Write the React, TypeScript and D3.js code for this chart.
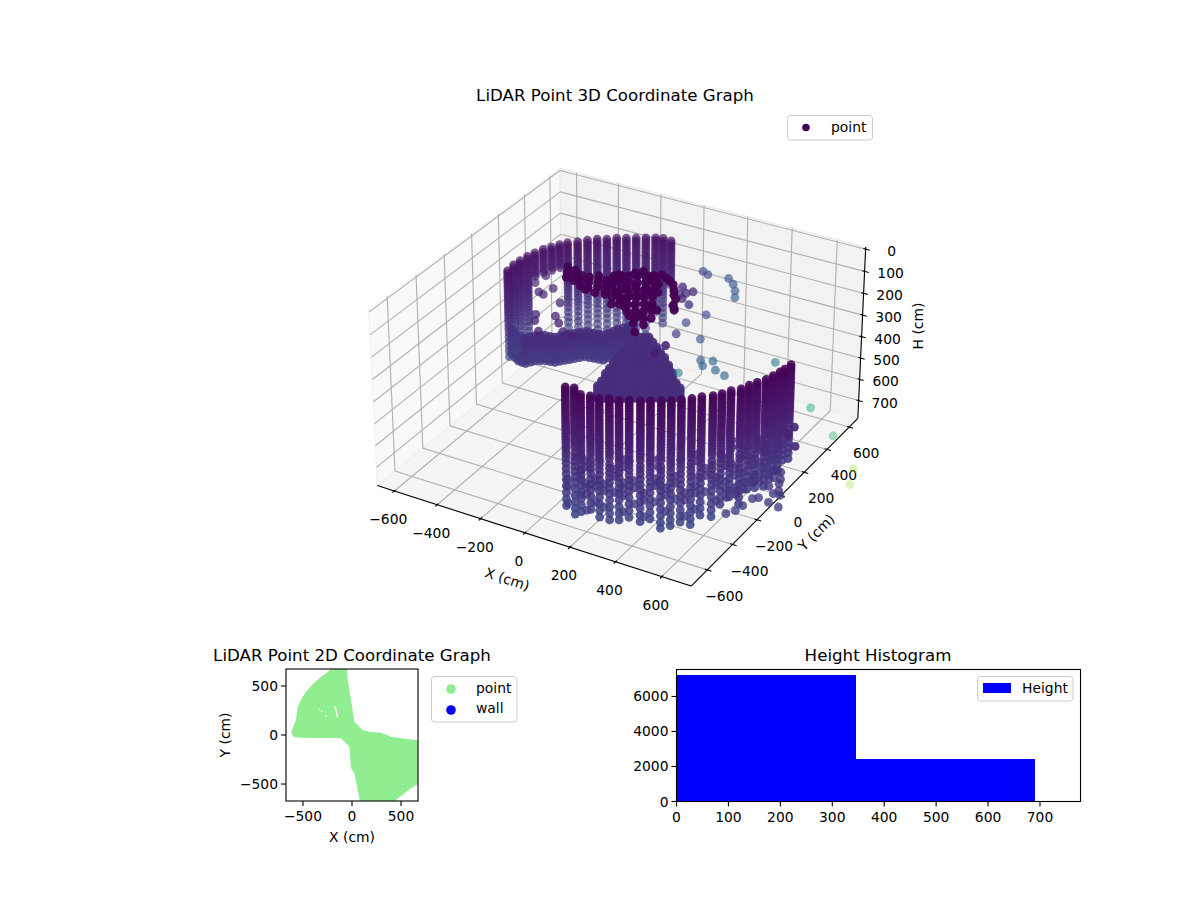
// App.tsx - LiDAR point graphs (3D scatter, 2D footprint, height histogram)
import React from 'react';
import * as d3 from 'd3';

const FONT = '"DejaVu Sans", sans-serif';
const TEXT = '#000';

// 3D axes
const xLim = [-680, 725];
const yLim = [-725, 680];
const hLim = [-10, 785];
const xTicks = [-600, -400, -200, 0, 200, 400, 600];
const yTicks = [-600, -400, -200, 0, 200, 400, 600];
const hTicks = [0, 100, 200, 300, 400, 500, 600, 700];

// sampled heights of one vertical laser sweep (cm)
const scanLevels = [
  154, 166, 178, 190, 202, 214, 226, 238, 250, 262, 274, 286, 298,
  310, 322, 334, 346, 358, 372, 386, 400, 416, 432, 450, 470, 492, 516, 540, 566, 594, 624, 654, 684, 710,
];
const moundLevels = [400, 412, 424, 436, 448, 460, 472, 484, 496, 508, 520, 532, 544, 556, 568, 580, 592, 604, 616, 628, 640, 652, 664, 676, 688, 700];

// near wall, one entry per sweep
const frontX = [119, 151, 196, 233, 272, 304, 342, 374, 413, 445, 479, 511, 540, 569, 594, 627, 649, 668, 694, 707, 723, 742, 752, 761, 767, 772];
const frontY = [-613, -602, -631, -623, -624, -604, -598, -578, -562, -543, -522, -503, -478, -451, -420, -393, -364, -328, -297, -257, -224, -188, -150, -112, -85, -43];
const frontBottom = [700, 712, 690, 680, 690, 690, 700, 700, 700, 700, 712, 712, 712, 712, 700, 690, 670, 650, 660, 650, 640, 640, 610, 600, 590, 590];
const frontOffset = [0, 9, -7, 5, -3, 11, 2, -9, 7, -5, 12, 0, -11, 6, -2, 10, -8, 3, 13, -6, 1, 8, -10, 4, -4, 9];

// far wall
const backX = [-566, -572, -568, -562, -552, -538, -520, -503, -483, -452, -425, -395, -361, -330, -296, -262, -228, -194, -164, -126];
const backY = [81, 136, 180, 227, 267, 310, 345, 380, 410, 438, 471, 498, 518, 545, 565, 586, 607, 627, 638, 635];
const backBottom = [590, 590, 580, 570, 285, 285, 280, 280, 640, 650, 650, 650, 650, 650, 650, 650, 640, 532, 592, 376];

// mound in the middle of the room
const moundX = [-200, -186, -172, -158, -144, -130, -116, -102, -89, -75, -62, -48, -35, -21, -8, 5, 19, 33, 47, 60, 74, 88];
const moundY = [164, 172, 180, 188, 196, 204, 213, 221, 229, 237, 246, 254, 262, 270, 279, 287, 295, 303, 312, 320, 328, 336];
const moundTop = [640, 610, 575, 550, 526, 502, 480, 464, 448, 432, 416, 408, 402, 410, 425, 450, 480, 508, 539, 578, 617, 650];

// low band joining the far wall and the mound
const bandX = [-637, -613, -589, -570, -552, -540, -528, -511, -494, -473, -453, -440, -426, -412, -399, -385, -372, -351, -331, -310, -290, -280, -270, -260, -249, -239, -229];
const bandY = [216, 200, 185, 183, 182, 202, 222, 232, 243, 246, 250, 267, 284, 300, 317, 334, 351, 355, 359, 362, 366, 390, 413, 436, 458, 482, 505];
const bandLevels = [525, 540, 555, 570, 585, 600, 615, 630, 645];

// dark structure close to the sensor (h = 100)
const blobX = [
  -291, -251, -207, -173, -145, -102, -108, -101, -67, -54, -33, 15, 55, 41, 7, -20, -41, -68, -109, -156, 24, 58, 78, 102, 109, 75, 47, 132, 170, 132, 98, 183, 183, 142, 6,
  -115, -88, -61, -34, -6, 21,
  -88, -61, -34, -7, 21, 48,
  -61, -34, -7, 20, 48, 75,
  -34, -7, 20, 47, 75, 102,
  -7, 20, 47, 74, 102, 129,
  74, 101, 129, 156,
  128, 156, 183,
  -271, -231, -187, -153, -125, -82, -88, -81,
  -311, -271, -227, -193, -165, -122,
  44, 71, 96, 123, 71, 40, 150, 168, 190, 205, 226,
];
const blobY = [
  86, 77, 53, 56, 82, 65, 129, 168, 171, 214, 242, 221, 194, 135, 115, 81, 35, 1, -6, -1, 40, 60, 107, 121, 6, -14, -48, 4, -8, -81, -101, -136, -203, -143, -4,
  151, 167, 183, 200, 216, 233,
  100, 116, 132, 149, 165, 182,
  48, 64, 80, 97, 113, 130,
  -3, 13, 29, 46, 62, 79,
  -55, -39, -23, -6, 10, 27,
  -74, -57, -41, -24,
  -109, -93, -76,
  47, 38, 14, 17, 43, 26, 90, 129,
  125, 116, 92, 95, 121, 104,
  255, 240, 225, 205, 180, 195, 165, 130, 105, 60, 30,
];

// loose returns around the holes of the far wall (h = 300)
const leftX = [-549, -542, -495, -468, -460, -407, -384, -326, -372, -332, -291, -241, -190];
const leftY = [261, 333, 201, 191, 255, 33, -12, -79, 164, 61, 18, -35, -48];

// loose returns in the lower part of the near wall, repeated on a few sweep heights
const lowerX = [186, 160, 262, 307, 291, 386, 394, 469, 454, 520, 514, 600, 610, 585, 652, 617, 678, 643, 700, 666, 707, 679, 675, 653, 173, 262, 285, 397, 509, 573, 875, 843, 815, 828, 780, 763, 754, 747, 726, 748, 736, 691, 708];
const lowerY = [-620, -541, -637, -650, -541, -642, -574, -632, -522, -561, -468, -553, -491, -363, -401, -263, -306, -167, -213, -74, -89, 12, 75, 157, -692, -701, -464, -397, -289, -131, -321, -245, -247, -311, -300, -318, -379, -424, -461, -87, -136, -99, -25];
const lowerLevels = [505, 537, 610];

// isolated far returns (h = 400), colour value and strength
const farX = [-92, -61, 30, 70, 104, 131, -100, -114, -79, -52, -60, -42, -3, -55, -32, 99, 60, 70, 175, 80, 75, 258, 286, 303, 346, 397, 521, 230, 801, 969, 813, 820, 880, 1141, 1179];
const farY = [851, 836, 849, 814, 767, 715, 690, 640, 627, 600, 647, 674, 568, 525, 495, 528, 430, 330, 340, 225, 150, 191, 156, 210, 151, 131, 324, 60, 79, -64, -80, -145, -205, -241, -345];
const farC = [0.22, 0.22, 0.25, 0.27, 0.28, 0.28, 0.12, 0.1, 0.12, 0.12, 0.13, 0.14, 0.13, 0.12, 0.12, 0.23, 0.2, 0.18, 0.27, 0.07, 0.08, 0.3, 0.31, 0.33, 0.33, 0.35, 0.42, 0.42, 0.62, 0.68, 0.1, 0.1, 0.11, 0.85, 0.87];
const farA = [0.65, 0.65, 0.65, 0.65, 0.65, 0.65, 0.75, 0.75, 0.75, 0.75, 0.75, 0.75, 0.75, 0.75, 0.75, 0.65, 0.65, 0.7, 0.65, 0.85, 0.8, 0.65, 0.65, 0.65, 0.65, 0.65, 0.6, 0.6, 0.5, 0.45, 0.9, 0.9, 0.9, 0.35, 0.35];

// 2D footprint outline
const footX = [-250, -180, -51, -44, -10, 24, 109, 177, 296, 398, 700, 700, 602, 398, 85, 24, -10, -27, -112, -537, -599, -619, -571, -554, -520, -469, -400, -333];
const footY = [640, 700, 700, 561, 357, 136, 51, 34, 24, -17, -60, -483, -544, -700, -700, -391, -340, -119, -34, -27, -17, 34, 153, 289, 360, 442, 520, 578];
const holeX = [-185, -163, -140, -155, -170];
const holeY = [296, 289, 175, 180, 250];
const speckX = [-333, -265, -310];
const speckY = [262, 194, 240];
const footTicks = [-500, 0, 500];

// histogram
const histEdges = [0, 345, 690];
const histCounts = [7200, 2400];
const histXTicks = [0, 100, 200, 300, 400, 500, 600, 700];
const histYTicks = [0, 2000, 4000, 6000];

const fmt = (v: number) => String(v).replace('-', '\u2212');

// view of the 3D axes: elev 30, azim -60, perspective at distance 10
const boxA = 0.595;
const boxC = 0.335;
const toBoxX = d3.scaleLinear().domain(xLim).range([-boxA, boxA]);
const toBoxY = d3.scaleLinear().domain(yLim).range([-boxA, boxA]);
const toBoxH = d3.scaleLinear().domain(hLim).range([boxC, -boxC]);
const screenX = d3.scaleLinear().domain([-0.095, 0.09]).range([622 - 0.095 * 3005, 622 + 0.09 * 3005]);
const screenY = d3.scaleLinear().domain([-0.095, 0.09]).range([366 + 0.095 * 2990, 366 - 0.09 * 2990]);

function project(x: number, y: number, h: number) {
  const nx = toBoxX(x);
  const ny = toBoxY(y);
  const nz = toBoxH(h);
  const u = 0.866 * nx + 0.5 * ny;
  const v = -0.25 * nx + 0.433 * ny + 0.866 * nz;
  const w = 0.433 * nx - 0.75 * ny + 0.5 * nz;
  const s = 10 - w;
  return { px: screenX(u / s), py: screenY(v / s), depth: w };
}

const hColor = d3.scaleLinear().domain([154, 720]).range([0.015, 0.22]);

type P = { x: number; y: number; h: number; c: number; a?: number };

function buildPoints(): P[] {
  const pts: P[] = [];
  frontX.forEach((x, i) => {
    scanLevels.filter(h => h <= frontBottom[i]).forEach(h => {
      const lvl = h > 420 ? h + frontOffset[i] : h;
      pts.push({ x, y: frontY[i], h: lvl, c: hColor(h), a: 0.88 });
    });
  });
  backX.forEach((x, i) => {
    scanLevels.filter(h => h >= 166 && h <= backBottom[i]).forEach(h => pts.push({ x, y: backY[i], h, c: hColor(h) + 0.03 }));
  });
  moundX.forEach((x, i) => {
    moundLevels.filter(h => h >= moundTop[i]).forEach(h => pts.push({ x, y: moundY[i], h, c: 0.13, a: 0.9 }));
  });
  bandX.forEach((x, i) => {
    bandLevels.forEach(h => pts.push({ x, y: bandY[i], h, c: hColor(h) - 0.02, a: 0.85 }));
  });
  blobX.forEach((x, i) => pts.push({ x, y: blobY[i], h: 100, c: 0.003, a: 0.95 }));
  leftX.forEach((x, i) => pts.push({ x, y: leftY[i], h: 300, c: 0.1 }));
  lowerX.forEach((x, i) => {
    lowerLevels.forEach(h => pts.push({ x, y: lowerY[i], h, c: hColor(h), a: 0.8 }));
  });
  farX.forEach((x, i) => pts.push({ x, y: farY[i], h: 400, c: farC[i], a: farA[i] }));
  return pts;
}

const poly = (corners: number[][]) =>
  corners.map(c => { const p = project(c[0], c[1], c[2]); return `${p.px},${p.py}`; }).join(' ');

const Seg = ({ a, b, stroke, sw }: { a: number[]; b: number[]; stroke: string; sw: number }) => {
  const p = project(a[0], a[1], a[2]);
  const q = project(b[0], b[1], b[2]);
  return <line x1={p.px} y1={p.py} x2={q.px} y2={q.py} stroke={stroke} strokeWidth={sw} />;
};

const Scatter3D = () => {
  const [x0, x1] = xLim;
  const [y0, y1] = yLim;
  const [hT, hB] = hLim;
  const projected = buildPoints().map(p => ({ ...p, ...project(p.x, p.y, p.h) }));
  projected.sort((a, b) => a.depth - b.depth);
  const fade = d3.scaleLinear()
    .domain(d3.extent(projected, d => d.depth) as [number, number])
    .range([0.62, 1]);
  const grid = '#b0b0b0';
  return (
    <g>
      <polygon points={poly([[x0, y0, hB], [x0, y1, hB], [x0, y1, hT], [x0, y0, hT]])} fill="#f9f9f9" stroke="#f2f2f2" />
      <polygon points={poly([[x0, y1, hB], [x1, y1, hB], [x1, y1, hT], [x0, y1, hT]])} fill="#f2f2f2" stroke="#eaeaea" />
      <polygon points={poly([[x0, y0, hB], [x1, y0, hB], [x1, y1, hB], [x0, y1, hB]])} fill="#f5f5f5" stroke="#eeeeee" />
      {xTicks.map(t => (
        <g key={`gx${t}`}>
          <Seg a={[t, y0, hB]} b={[t, y1, hB]} stroke={grid} sw={1.1} />
          <Seg a={[t, y1, hB]} b={[t, y1, hT]} stroke={grid} sw={1.1} />
        </g>
      ))}
      {yTicks.map(t => (
        <g key={`gy${t}`}>
          <Seg a={[x0, t, hB]} b={[x1, t, hB]} stroke={grid} sw={1.1} />
          <Seg a={[x0, t, hB]} b={[x0, t, hT]} stroke={grid} sw={1.1} />
        </g>
      ))}
      {hTicks.map(t => (
        <g key={`gh${t}`}>
          <Seg a={[x0, y0, t]} b={[x0, y1, t]} stroke={grid} sw={1.1} />
          <Seg a={[x0, y1, t]} b={[x1, y1, t]} stroke={grid} sw={1.1} />
        </g>
      ))}
      <Seg a={[x0, y0, hB]} b={[x1, y0, hB]} stroke="#000" sw={1.1} />
      <Seg a={[x1, y0, hB]} b={[x1, y1, hB]} stroke="#000" sw={1.1} />
      <Seg a={[x1, y1, hB]} b={[x1, y1, hT]} stroke="#000" sw={1.1} />
      {xTicks.map(t => {
        const p = project(t, y0, hB);
        return (
          <g key={`tx${t}`}>
            <Seg a={[t, y0 - 14, hB]} b={[t, y0 + 10, hB]} stroke="#000" sw={1.1} />
            <text x={p.px - 6} y={p.py + 33} textAnchor="middle" fontSize={13.89} fill={TEXT}>{fmt(t)}</text>
          </g>
        );
      })}
      {yTicks.map(t => {
        const p = project(x1, t, hB);
        return (
          <g key={`ty${t}`}>
            <Seg a={[x1 - 10, t, hB]} b={[x1 + 18, t, hB]} stroke="#000" sw={1.1} />
            <text x={p.px + 17} y={p.py + 31} textAnchor="middle" fontSize={13.89} fill={TEXT}>{fmt(t)}</text>
          </g>
        );
      })}
      {hTicks.map(t => {
        const p = project(x1, y1, t);
        return (
          <g key={`th${t}`}>
            <Seg a={[x1 - 10, y1, t]} b={[x1 + 18, y1, t]} stroke="#000" sw={1.1} />
            <text x={p.px + 26} y={p.py + 7} textAnchor="middle" fontSize={13.89} fill={TEXT}>{fmt(t)}</text>
          </g>
        );
      })}
      <text transform="translate(507,580) rotate(17.8)" textAnchor="middle" dominantBaseline="middle" fontSize={13.89} fill={TEXT}>X (cm)</text>
      <text transform="translate(817,533) rotate(-45)" textAnchor="middle" dominantBaseline="middle" fontSize={13.89} fill={TEXT}>Y (cm)</text>
      <text transform="translate(919,326) rotate(-90)" textAnchor="middle" dominantBaseline="middle" fontSize={13.89} fill={TEXT}>H (cm)</text>
      {projected.map((p, i) => (
        <circle key={i} cx={p.px} cy={p.py} r={4.4} fill={d3.interpolateViridis(p.c)} fillOpacity={p.a ?? fade(p.depth)} />
      ))}
      <text x={615} y={101} textAnchor="middle" fontSize={16.67} fill={TEXT}>LiDAR Point 3D Coordinate Graph</text>
      <rect x={787.5} y={115.5} width={85} height={24.5} rx={3} fill="#fff" stroke="#ccc" />
      <circle cx={806} cy={127.5} r={3.8} fill="#440154" />
      <text x={831} y={132} fontSize={13.89} fill={TEXT}>point</text>
    </g>
  );
};

const Footprint = () => {
  const left = 286;
  const right = 418;
  const top = 669;
  const bottom = 801;
  const x = d3.scaleLinear().domain([-673, 673]).range([left, right]);
  const y = d3.scaleLinear().domain([-673, 673]).range([bottom, top]);
  const outline = d3.line<number>().x(d => x(footX[d])).y(d => y(footY[d])).curve(d3.curveLinearClosed);
  const hole = d3.line<number>().x(d => x(holeX[d])).y(d => y(holeY[d])).curve(d3.curveLinearClosed);
  return (
    <g>
      <clipPath id="foot-clip"><rect x={left} y={top} width={right - left} height={bottom - top} /></clipPath>
      <path clipPath="url(#foot-clip)" fill="#90ee90" fillRule="evenodd"
        d={`${outline(d3.range(footX.length))}${hole(d3.range(holeX.length))}`} />
      {speckX.map((v, i) => <circle key={i} cx={x(v)} cy={y(speckY[i])} r={0.8} fill="#fff" />)}
      <rect x={left} y={top} width={right - left} height={bottom - top} fill="none" stroke="#000" strokeWidth={1.1} />
      {footTicks.map(t => (
        <g key={t}>
          <line x1={x(t)} x2={x(t)} y1={bottom} y2={bottom + 5} stroke="#000" strokeWidth={1.1} />
          <text x={x(t)} y={bottom + 20} textAnchor="middle" fontSize={13.89} fill={TEXT}>{fmt(t)}</text>
          <line x1={left - 5} x2={left} y1={y(t)} y2={y(t)} stroke="#000" strokeWidth={1.1} />
          <text x={left - 8} y={y(t) + 5} textAnchor="end" fontSize={13.89} fill={TEXT}>{fmt(t)}</text>
        </g>
      ))}
      <text x={352} y={842} textAnchor="middle" fontSize={13.89} fill={TEXT}>X (cm)</text>
      <text transform="translate(230,735) rotate(-90)" textAnchor="middle" fontSize={13.89} fill={TEXT}>Y (cm)</text>
      <text x={352} y={661} textAnchor="middle" fontSize={16.67} fill={TEXT}>LiDAR Point 2D Coordinate Graph</text>
      <rect x={431.5} y={676.5} width={85.5} height={45.5} rx={3} fill="#fff" stroke="#ccc" />
      <circle cx={451} cy={689} r={4.8} fill="#90ee90" />
      <circle cx={451} cy={710} r={4.8} fill="#0000ff" />
      <text x={476} y={693} fontSize={13.89} fill={TEXT}>point</text>
      <text x={476} y={713} fontSize={13.89} fill={TEXT}>wall</text>
    </g>
  );
};

const Histogram = () => {
  const left = 676.5;
  const right = 1080.5;
  const top = 669.5;
  const bottom = 801.5;
  const x = d3.scaleLinear().domain([0, 778]).range([left, right]);
  const y = d3.scaleLinear().domain([0, 7540]).range([bottom, top]);
  return (
    <g>
      {histCounts.map((c, i) => (
        <rect key={i} x={x(histEdges[i])} y={y(c)} width={x(histEdges[i + 1]) - x(histEdges[i])} height={bottom - y(c)} fill="#0000ff" shapeRendering="crispEdges" />
      ))}
      <rect x={left} y={top} width={right - left} height={bottom - top} fill="none" stroke="#000" strokeWidth={1.1} />
      {histXTicks.map(t => (
        <g key={t}>
          <line x1={x(t)} x2={x(t)} y1={bottom} y2={bottom + 5} stroke="#000" strokeWidth={1.1} />
          <text x={x(t)} y={bottom + 20} textAnchor="middle" fontSize={13.89} fill={TEXT}>{t}</text>
        </g>
      ))}
      {histYTicks.map(t => (
        <g key={t}>
          <line x1={left - 5} x2={left} y1={y(t)} y2={y(t)} stroke="#000" strokeWidth={1.1} />
          <text x={left - 8} y={y(t) + 5} textAnchor="end" fontSize={13.89} fill={TEXT}>{t}</text>
        </g>
      ))}
      <text x={878} y={661} textAnchor="middle" fontSize={16.67} fill={TEXT}>Height Histogram</text>
      <rect x={977.5} y={676.5} width={95.5} height={24.5} rx={3} fill="#fff" stroke="#ccc" />
      <rect x={983} y={683} width={28} height={10} fill="#0000ff" />
      <text x={1022} y={693} fontSize={13.89} fill={TEXT}>Height</text>
    </g>
  );
};

export default function App() {
  return (
    <svg width={1200} height={900} style={{ position: 'absolute', left: 0, top: 0, fontFamily: FONT, background: '#fff' }}>
      <Scatter3D />
      <Footprint />
      <Histogram />
    </svg>
  );
}
